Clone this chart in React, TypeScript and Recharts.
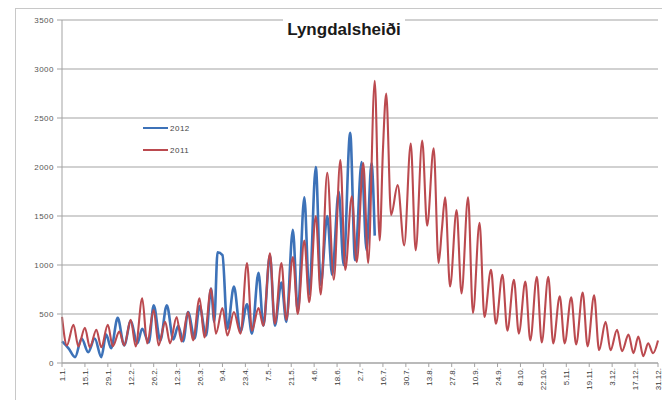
import { CartesianGrid, Legend, Line, LineChart, XAxis, YAxis } from "recharts";

// day of year -> daily traffic (weekly peaks and lows)
const days2011 = [
  1, 4, 8, 11, 15, 18, 22, 25, 29, 32, 36, 39, 43, 46, 50, 53, 57, 60, 64, 67, 71, 74, 78, 81, 85, 88, 92, 95, 99,
  102, 106, 110, 114, 117, 121, 124, 128, 131, 135, 138, 142, 145, 149, 152, 156, 159, 163, 167, 171, 174, 178, 181,
  185, 188, 192, 195, 197, 199, 202, 206, 210, 214, 217, 221, 224, 228, 231, 233, 235, 238, 242, 245, 249, 252, 256,
  259, 263, 266, 270, 273, 277, 280, 284, 287, 291, 294, 298, 301, 305, 308, 312, 315, 319, 322, 326, 329, 333, 336,
  340, 343, 347, 350, 353, 356, 359, 362, 365,
];
const traffic2011 = [
  470, 180, 390, 170, 360, 160, 340, 160, 390, 170, 320, 180, 440, 170, 660, 200, 540, 180, 420, 200, 470, 220, 520,
  230, 660, 260, 760, 300, 560, 280, 520, 300, 1020, 330, 560, 380, 1120, 400, 1020, 440, 1080, 500, 1250, 620, 1500,
  700, 1940, 850, 2070, 950, 1700, 1030, 2040, 1020, 2880, 1250, 2170, 2750, 1510, 1815, 1200, 2240, 1150, 2270, 1400,
  2190, 1020, 1360, 1690, 780, 1560, 710, 1690, 510, 1430, 470, 950, 400, 900, 330, 850, 300, 830, 230, 880, 210, 880,
  200, 680, 200, 670, 190, 720, 170, 690, 130, 420, 130, 340, 120, 290, 100, 270, 70, 200, 100, 230,
];

const days2012 = [
  1, 5, 9, 13, 17, 21, 25, 28, 31, 35, 39, 43, 47, 50, 54, 57, 61, 65, 69, 72, 75, 78, 82, 85, 89, 92, 94, 96, 99, 102,
  106, 110, 114, 117, 121, 124, 128, 131, 135, 138, 142, 145, 149, 152, 156, 159, 163, 166, 170, 173, 177, 180, 184,
  187, 190, 192,
];
const traffic2012 = [
  220, 150, 60, 250, 110, 250, 60, 290, 150, 460, 180, 430, 200, 350, 210, 590, 230, 590, 240, 380, 220, 520, 250, 580,
  280, 760, 420, 1130, 1100, 350, 780, 320, 600, 300, 920, 380, 1100, 380, 820, 420, 1360, 520, 1690, 700, 2000, 800,
  1500, 900, 1750, 1000, 2350, 1050, 2050, 1150, 2040, 1300,
];

const tickDays = [1, 15, 29, 43, 57, 71, 85, 99, 113, 127, 141, 155, 169, 183, 197, 211, 225, 239, 253, 267, 281, 295, 309, 323, 337, 351, 365];
const tickLabels = [
  "1.1.", "15.1.", "29.1.", "12.2.", "26.2.", "12.3.", "26.3.", "9.4.", "23.4.", "7.5.", "21.5.", "4.6.", "18.6.",
  "2.7.", "16.7.", "30.7.", "13.8.", "27.8.", "10.9.", "24.9.", "8.10.", "22.10.", "5.11.", "19.11.", "3.12.",
  "17.12.", "31.12.",
];
const yTicks = [0, 500, 1000, 1500, 2000, 2500, 3000, 3500];

const BLUE = "#3d72b8";
const RED = "#bb4a4f";
const FONT = "'Liberation Sans', Arial, sans-serif";

const rows2011 = days2011.map((day, i) => ({ day, value: traffic2011[i] }));
const rows2012 = days2012.map((day, i) => ({ day, value: traffic2012[i] }));

function DateTick({ x, y, payload }: any) {
  const idx = tickDays.indexOf(payload.value);
  return (
    <g transform={`translate(${x},${y})`}>
      <text transform="rotate(-90)" textAnchor="end" dy={3} fontSize={8} fill="#3a3a3a" fontFamily={FONT}>
        {tickLabels[idx] ?? ""}
      </text>
    </g>
  );
}

function LegendBox() {
  const items = [
    { name: "2012", color: BLUE },
    { name: "2011", color: RED },
  ];
  return (
    <div style={{ fontFamily: FONT, fontSize: 8, color: "#444" }}>
      {items.map((it) => (
        <div key={it.name} style={{ display: "flex", alignItems: "center", height: 22 }}>
          <span style={{ display: "inline-block", width: 25, height: 2, background: it.color, marginRight: 2 }} />
          <span style={{ letterSpacing: 0.5 }}>{it.name}</span>
        </div>
      ))}
    </div>
  );
}

export default function App() {
  return (
    <div style={{ position: "absolute", left: 0, top: 0, width: 662, height: 400, background: "#fff", overflow: "hidden" }}>
      <div
        style={{
          position: "absolute",
          left: 15,
          top: 8,
          width: 700,
          height: 420,
          borderLeft: "1px solid #c8c8c8",
          borderTop: "1px solid #c8c8c8",
        }}
      />
      <LineChart width={662} height={400} margin={{ top: 20, right: 4, left: 10, bottom: 7 }}>
        <CartesianGrid vertical={false} stroke="#a3a3a3" />
        <XAxis
          dataKey="day"
          type="number"
          domain={[1, 365]}
          ticks={tickDays}
          interval={0}
          height={30}
          tick={<DateTick />}
          tickSize={4}
          tickMargin={1}
          stroke="#a3a3a3"
          allowDuplicatedCategory={false}
        />
        <YAxis
          domain={[0, 3500]}
          ticks={yTicks}
          width={52}
          tickSize={5}
          tickMargin={3}
          stroke="#a3a3a3"
          tick={{ fontSize: 8, fill: "#555", fontFamily: FONT, letterSpacing: 0.5 }}
        />
        <Legend
          layout="vertical"
          align="center"
          verticalAlign="middle"
          content={<LegendBox />}
          wrapperStyle={{ position: "absolute", left: 143, top: 117, width: 60, height: 44 }}
        />
        <Line
          data={rows2012}
          dataKey="value"
          name="2012"
          type="monotone"
          stroke={BLUE}
          strokeWidth={2.6}
          dot={false}
          isAnimationActive={false}
        />
        <Line
          data={rows2011}
          dataKey="value"
          name="2011"
          type="monotone"
          stroke={RED}
          strokeWidth={2.1}
          dot={false}
          isAnimationActive={false}
        />
      </LineChart>
      <div
        style={{
          position: "absolute",
          left: 283,
          top: 17,
          width: 122,
          height: 26,
          lineHeight: "26px",
          background: "#fff",
          textAlign: "center",
          fontFamily: FONT,
          fontWeight: "bold",
          fontSize: 17,
          color: "#1a1a1a",
        }}
      >
        Lyngdalsheiði
      </div>
    </div>
  );
}
